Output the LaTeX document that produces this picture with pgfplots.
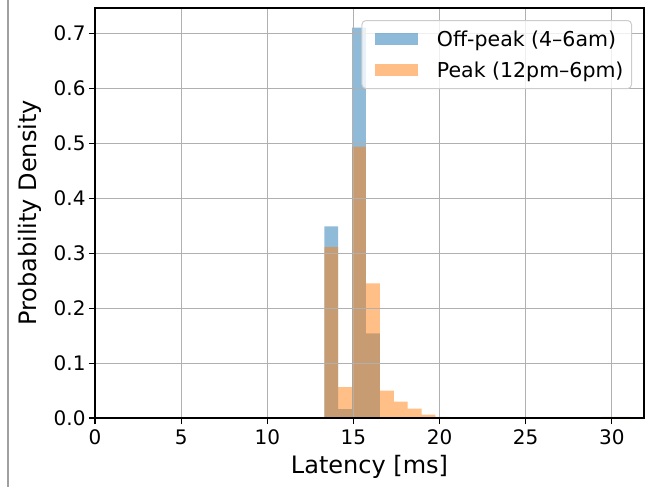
\documentclass[border=0pt]{standalone}
\usepackage{fontspec}
\setmainfont{DejaVu Sans}
\usepackage{pgfplots}
\pgfplotsset{compat=1.18}
\definecolor{cblue}{RGB}{31,119,180}
\definecolor{corange}{RGB}{255,127,14}
\definecolor{gridgray}{RGB}{176,176,176}
\definecolor{legframe}{RGB}{204,204,204}
\definecolor{sidegray}{RGB}{160,160,160}
\begin{document}
\begin{tikzpicture}
\path[use as bounding box] (-95bp,-69bp) rectangle (559bp,418bp);
\draw[sidegray, line width=1.5bp] (-87bp,-69bp) -- (-87bp,418bp);
\begin{axis}[
  at={(0,0)}, anchor=south west, scale only axis,
  width=549bp, height=410bp,
  xmin=0, xmax=31.87, ymin=0, ymax=0.7466,
  xtick={0,5,10,15,20,25,30},
  ytick={0,0.1,0.2,0.3,0.4,0.5,0.6,0.7},
  /pgf/number format/assume math mode=true,
  yticklabel style={/pgf/number format/fixed, /pgf/number format/fixed zerofill, /pgf/number format/precision=1},
  xticklabel style={yshift=-2bp},
  tick label style={font=\fontsize{20bp}{24bp}\selectfont},
  xlabel={Latency [ms]},
  ylabel={Probability Density},
  every axis x label/.style={at={(axis description cs:0.5,-0.1195)}, anchor=center, font=\fontsize{24bp}{29bp}\selectfont},
  every axis y label/.style={at={(axis description cs:-0.118,0.5)}, rotate=90, anchor=center, font=\fontsize{24bp}{29bp}\selectfont},
  grid=major,
  major grid style={gridgray, line width=1.1bp},
  axis on top,
  axis line style={black, line width=1.1bp},
  tick style={black, line width=1.1bp},
  major tick length=6bp,
  tick align=outside,
  xtick pos=bottom, ytick pos=left,
  legend cell align=left,
  legend style={at={(1,1)}, anchor=north east, xshift=-12bp, yshift=-12bp,
    draw=legframe, line width=1bp, rounded corners=4bp, fill=white, fill opacity=0.8, text opacity=1,
    font=\fontsize{20.5bp}{24bp}\selectfont, inner xsep=6bp, inner ysep=8bp, row sep=10bp, column sep=17bp},
  legend image code/.code={\path (-7bp,0bp); \fill[#1, sharp corners] (0bp,-6bp) rectangle (43bp,6bp);},
]
\addplot[ybar interval, fill=cblue, fill opacity=0.5, draw=none] coordinates {
(13.310,0.349) (14.117,0.016) (14.924,0.711) (15.731,0.154) (16.538,0) (17.345,0)
};
\addlegendentry{Off-peak (4–6am)}
\addplot[ybar interval, fill=corange, fill opacity=0.5, draw=none] coordinates {
(13.310,0.311) (14.117,0.056) (14.924,0.494) (15.731,0.245) (16.538,0.050)
(17.345,0.030) (18.152,0.017) (18.959,0.006) (19.766,0.002) (20.573,0.001)
(21.380,0.0005) (22.187,0) (22.994,0) (23.801,0) (24.608,0) (25.415,0)
(26.222,0) (27.029,0) (27.836,0) (28.643,0) (29.450,0.002) (30.257,0.002)
(31.064,0.0015) (31.871,0)
};
\addlegendentry{Peak (12pm–6pm)}
\end{axis}
\end{tikzpicture}
\end{document}
